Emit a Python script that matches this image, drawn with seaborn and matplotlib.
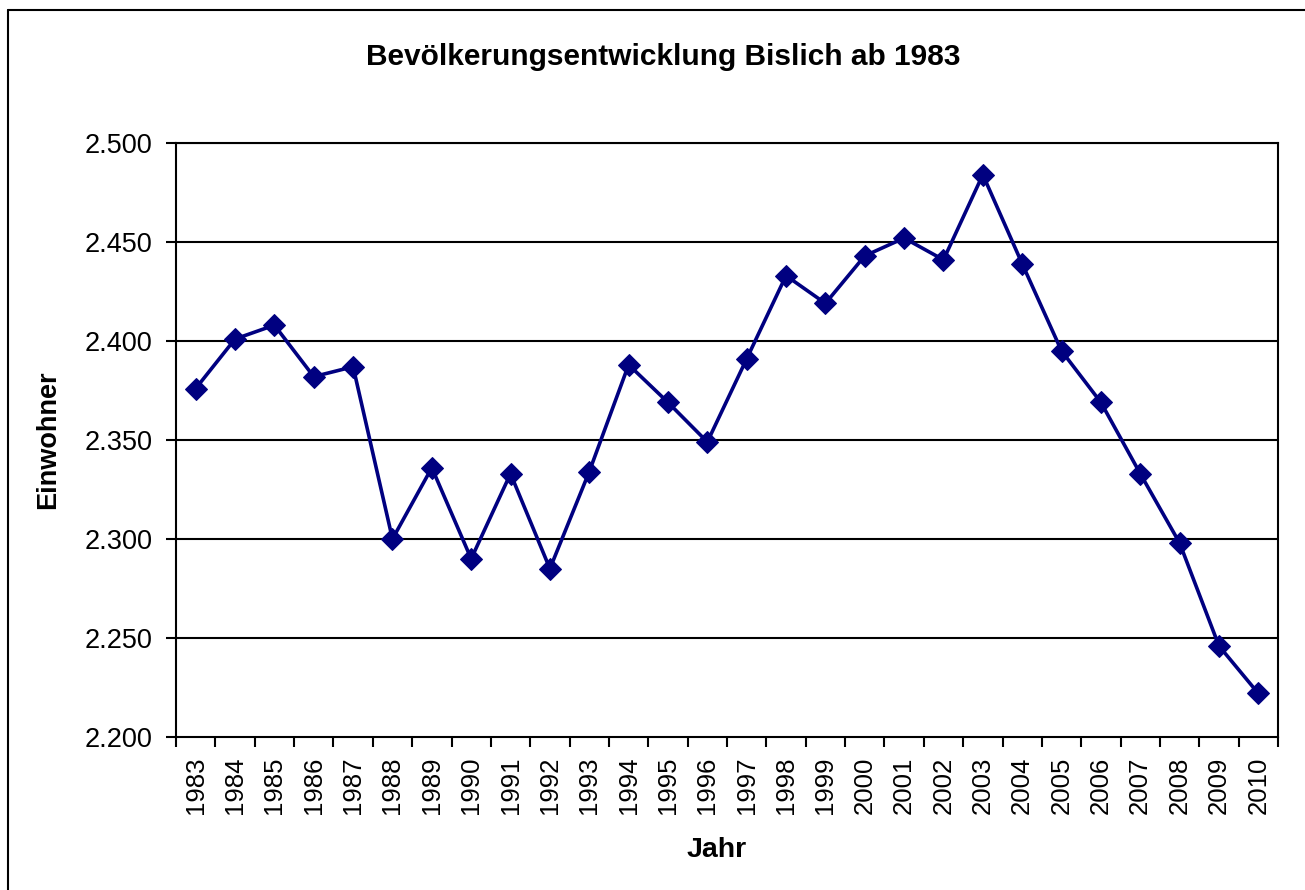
import matplotlib
matplotlib.use("Agg")
import matplotlib.pyplot as plt
import seaborn as sns
import pandas as pd
from matplotlib.lines import Line2D

years = list(range(1983, 2011))
einwohner = [2376, 2401, 2408, 2382, 2387, 2300, 2336, 2290, 2333, 2285,
             2334, 2388, 2369, 2349, 2391, 2433, 2419, 2443, 2452, 2441,
             2484, 2439, 2395, 2369, 2333, 2298, 2246, 2222]
y_ticks = [2200, 2250, 2300, 2350, 2400, 2450, 2500]
y_tick_labels = ["2.200", "2.250", "2.300", "2.350", "2.400", "2.450", "2.500"]

title = "Bevölkerungsentwicklung Bislich ab 1983"
xlabel = "Jahr"
ylabel = "Einwohner"

df = pd.DataFrame({"Jahr": years, "Einwohner": einwohner})

sns.set_theme(style="white")
plt.rcParams['font.family'] = ['Liberation Sans', 'DejaVu Sans']
plt.rcParams['text.color'] = 'black'
plt.rcParams['axes.labelcolor'] = 'black'
plt.rcParams['xtick.color'] = 'black'
plt.rcParams['ytick.color'] = 'black'

W, H = 1305, 890
fig = plt.figure(figsize=(W / 100, H / 100), dpi=100)
ax = fig.add_axes([176 / W, 1 - 737 / H, (1278 - 176) / W, (737 - 143) / H])

sns.lineplot(data=df, x="Jahr", y="Einwohner", ax=ax, color="#000080",
             linewidth=2.6, marker="D", markersize=11,
             markeredgecolor="#000080", markerfacecolor="#000080")

ax.set_xlim(years[0] - 0.5, years[-1] + 0.5)
ax.set_ylim(y_ticks[0], y_ticks[-1])
ax.set_yticks(y_ticks)
ax.set_yticklabels(y_tick_labels, fontsize=19.5)
for yv in y_ticks[1:]:
    ax.axhline(yv, color="black", linewidth=1.5, zorder=0)

ax.set_xticks([y - 0.5 for y in years] + [years[-1] + 0.5])
ax.set_xticklabels([])
ax.set_xticks(years, minor=True)
ax.set_xticklabels([str(y) for y in years], minor=True, rotation=90, fontsize=18.5)
ax.tick_params(axis="x", which="major", length=7, width=1.5, color="black", direction="out", bottom=True)
ax.tick_params(axis="x", which="minor", length=0, pad=14)
ax.tick_params(axis="y", which="major", length=7, width=1.5, color="black", direction="out", left=True, pad=10)

for s in ax.spines.values():
    s.set_color("black")
    s.set_linewidth(1.5)
    s.set_visible(True)

ax.set_xlabel(xlabel, fontsize=20.5, fontweight="bold")
ax.set_ylabel(ylabel, fontsize=19.5, fontweight="bold")
ax.xaxis.set_label_coords((717 - 176) / (1278 - 176), -(850 - 737) / (737 - 143))
ax.yaxis.set_label_coords(-(176 - 48) / (1278 - 176), 0.5)
ax.xaxis.label.set_va("center")
ax.yaxis.label.set_va("center")
ax.grid(False)

fig.text(663 / W, 1 - 57 / H, title, ha="center", va="center", fontsize=21.5, fontweight="bold")

# outer chart border (left and top visible)
fig.add_artist(Line2D([8 / W, 8 / W], [0, 1 - 10 / H], transform=fig.transFigure, color="black", linewidth=1.5))
fig.add_artist(Line2D([8 / W, 1], [1 - 10 / H, 1 - 10 / H], transform=fig.transFigure, color="black", linewidth=1.5))

fig.savefig("out.png", dpi=100, facecolor="white")
